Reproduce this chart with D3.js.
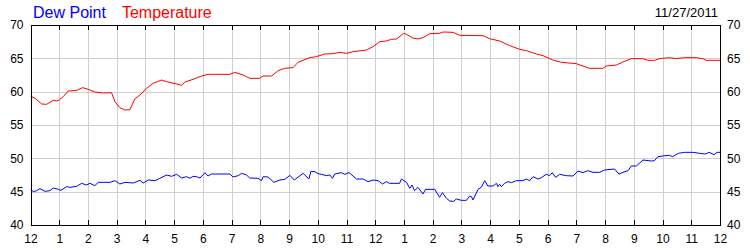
<!DOCTYPE html>
<head>
  <meta charset='utf-8'>
  <script src="https://d3js.org/d3.v7.min.js"></script>
  <style>
    body { margin: 0; background: #fff; }
    svg text { font-family: "Liberation Sans", Arial, sans-serif; }
    .axis path, .axis line { stroke: #000; shape-rendering: crispEdges; }
    .axis text { font-size: 12px; fill: #000; }
    .grid line { stroke: #cfcfcf; shape-rendering: crispEdges; }
    .grid path { stroke: none; }
  </style>
</head>
<body>
<div id="chart"></div>
<script>

// hour labels along x (midnight to midnight)
var hourLabels = ["12","1","2","3","4","5","6","7","8","9","10","11",
                  "12","1","2","3","4","5","6","7","8","9","10","11","12"];
var yTicks = [40, 45, 50, 55, 60, 65, 70];
var dateLabel = "11/27/2011";

// [hour of day, deg F]
var temperature = [
  [0.00,59.3],[0.16,59.0],[0.39,58.15],[0.56,58.1],[0.79,58.7],[0.91,58.6],[1.00,58.75],
  [1.14,59.25],[1.31,60.1],[1.61,60.2],[1.82,60.6],[2.01,60.35],[2.24,59.95],[2.53,59.8],
  [2.82,59.85],[2.94,58.5],[3.11,57.6],[3.29,57.25],[3.46,57.3],[3.63,58.9],[3.81,59.5],
  [4.04,60.5],[4.27,61.25],[4.56,61.75],[4.74,61.5],[5.09,61.15],[5.26,60.95],[5.37,61.45],
  [5.66,61.85],[5.95,62.35],[6.18,62.6],[6.94,62.6],[7.11,62.9],[7.40,62.5],[7.63,62.0],
  [7.97,62.0],[8.10,62.35],[8.39,62.35],[8.62,63.15],[8.85,63.5],[9.14,63.6],[9.31,64.4],
  [9.72,65.1],[9.95,65.25],[10.24,65.65],[10.53,65.7],[10.77,65.9],[11.00,65.75],[11.23,66.0],
  [11.69,66.25],[11.92,66.75],[12.16,67.5],[12.39,67.6],[12.56,67.85],[12.74,67.9],[12.99,68.75],
  [13.09,68.6],[13.31,68.05],[13.49,67.9],[13.66,68.1],[13.90,68.7],[14.24,68.75],[14.36,68.95],
  [14.71,68.9],[14.94,68.45],[15.75,68.4],[15.98,67.95],[16.33,67.6],[16.68,66.9],[17.03,66.35],
  [17.26,66.15],[17.61,65.65],[17.84,65.4],[18.18,64.75],[18.48,64.4],[19.00,64.2],[19.23,63.85],
  [19.46,63.5],[19.92,63.5],[20.04,63.85],[20.39,64.0],[20.62,64.45],[20.91,64.95],[21.31,64.95],
  [21.49,64.7],[21.72,64.7],[21.90,64.95],[22.24,65.1],[22.48,64.95],[22.77,65.1],[23.17,65.1],
  [23.40,64.95],[23.52,64.7],[24.00,64.7]
];

var dewPoint = [
  [0.00,45.35],[0.10,45.0],[0.22,45.15],[0.33,45.45],[0.50,45.05],[0.68,45.15],[0.79,45.55],
  [0.97,45.35],[1.06,45.2],[1.26,45.75],[1.37,45.65],[1.61,45.8],[1.78,46.25],[1.95,46.0],
  [2.07,46.25],[2.24,45.9],[2.36,46.4],[2.77,46.4],[2.94,46.65],[3.11,46.15],[3.29,46.4],
  [3.58,46.3],[3.81,46.7],[3.92,46.3],[4.10,46.75],[4.33,46.65],[4.50,47.0],[4.74,47.5],
  [4.91,47.3],[5.09,47.6],[5.26,47.05],[5.43,47.25],[5.55,47.0],[5.66,47.3],[5.78,47.25],
  [5.90,47.05],[6.07,47.85],[6.18,47.35],[6.30,47.65],[6.94,47.65],[7.05,47.2],[7.23,47.4],
  [7.35,47.75],[7.52,47.5],[7.63,47.05],[7.92,47.0],[8.04,46.65],[8.10,47.25],[8.27,47.2],
  [8.47,46.4],[8.68,46.75],[8.85,46.85],[9.03,47.45],[9.18,46.75],[9.49,47.75],[9.69,46.9],
  [9.76,48.05],[9.90,48.0],[10.01,47.7],[10.13,47.6],[10.30,47.4],[10.42,47.5],[10.51,47.0],
  [10.59,47.65],[10.82,47.85],[10.94,47.6],[11.09,47.85],[11.35,46.9],[11.58,46.9],[11.75,46.5],
  [11.92,46.75],[12.10,46.65],[12.25,46.15],[12.39,46.5],[12.50,46.25],[12.85,46.25],[12.91,46.9],
  [13.09,46.4],[13.20,45.5],[13.28,46.0],[13.37,45.15],[13.49,45.65],[13.66,44.65],[13.75,45.35],
  [14.07,45.35],[14.24,44.15],[14.34,44.85],[14.48,44.0],[14.59,43.6],[14.73,43.55],[14.82,43.9],
  [15.00,43.7],[15.17,43.7],[15.29,44.35],[15.35,44.25],[15.40,43.75],[15.58,45.35],[15.69,45.65],
  [15.81,46.65],[15.92,45.85],[16.10,45.85],[16.22,46.25],[16.27,45.75],[16.33,46.1],[16.39,45.75],
  [16.50,46.25],[16.62,46.5],[16.74,46.35],[16.91,46.65],[17.14,46.65],[17.26,46.9],[17.37,46.65],
  [17.49,47.25],[17.66,46.9],[17.78,47.1],[17.95,47.6],[18.07,47.4],[18.16,47.85],[18.28,47.15],
  [18.42,47.6],[18.65,47.4],[18.88,47.35],[19.06,48.1],[19.23,47.85],[19.40,48.15],[19.58,47.9],
  [19.81,47.9],[19.98,48.25],[20.33,48.4],[20.48,47.65],[20.62,47.9],[20.80,48.15],[20.91,48.85],
  [21.09,48.85],[21.32,49.75],[21.61,49.6],[21.72,49.65],[21.84,50.25],[22.01,50.35],[22.24,50.45],
  [22.35,50.25],[22.55,50.75],[22.77,50.9],[23.06,50.9],[23.29,50.75],[23.50,50.65],[23.62,50.9],
  [23.79,50.55],[23.90,50.9],[24.00,50.9]
];

var margin = {top: 25, right: 30, bottom: 25, left: 30.5},
    width = 750 - margin.left - margin.right,
    height = 250 - margin.top - margin.bottom;

var svg = d3.select("#chart").append("svg")
    .attr("width", 750)
    .attr("height", 250);

var g = svg.append("g")
    .attr("transform", `translate(${margin.left},${margin.top})`);

var x = d3.scaleLinear().domain([0, 24]).range([0, width]);
var y = d3.scaleLinear().domain([40, 70]).range([height, 0]);
var hours = d3.range(0, 25);

// grid
g.append("g").attr("class", "grid")
  .attr("transform", `translate(0,${height})`)
  .call(d3.axisBottom(x).tickValues(hours.slice(1, -1)).tickSize(-height).tickFormat(""));
g.append("g").attr("class", "grid")
  .call(d3.axisLeft(y).tickValues(yTicks.slice(1, -1)).tickSize(-width).tickFormat(""));

// lines
var line = d3.line()
  .x(function(d) { return x(d[0]); })
  .y(function(d) { return y(d[1]); });

g.append("path").datum(temperature)
  .attr("fill", "none").attr("stroke", "#ff0000").attr("stroke-width", 1)
  .attr("d", line);
g.append("path").datum(dewPoint)
  .attr("fill", "none").attr("stroke", "#0000ff").attr("stroke-width", 1)
  .attr("d", line);

// axes
g.append("g").attr("class", "axis")
  .attr("transform", `translate(0,${height})`)
  .call(d3.axisBottom(x).tickValues(hours).tickSizeInner(-5).tickSizeOuter(0).tickPadding(9)
    .tickFormat(function(d) { return hourLabels[d]; }));
g.append("g").attr("class", "axis")
  .call(d3.axisTop(x).tickValues(hours).tickSizeInner(-5).tickSizeOuter(0).tickFormat(""));
g.append("g").attr("class", "axis")
  .call(d3.axisLeft(y).tickValues(yTicks).tickSize(0).tickPadding(7).tickFormat(d3.format("d")));
g.append("g").attr("class", "axis")
  .attr("transform", `translate(${width},0)`)
  .call(d3.axisRight(y).tickValues(yTicks).tickSize(0).tickPadding(7).tickFormat(d3.format("d")));

// legend
var legend = svg.append("text").attr("x", 33).attr("y", 18).style("font-size", "16px");
legend.append("tspan").attr("fill", "#0000ff").text("Dew Point");
legend.append("tspan").attr("fill", "#ff0000").attr("dx", 16).text("Temperature");

svg.append("text")
  .attr("x", 718).attr("y", 17)
  .attr("text-anchor", "end")
  .style("font-size", "13px")
  .text(dateLabel);

</script>
</body>
